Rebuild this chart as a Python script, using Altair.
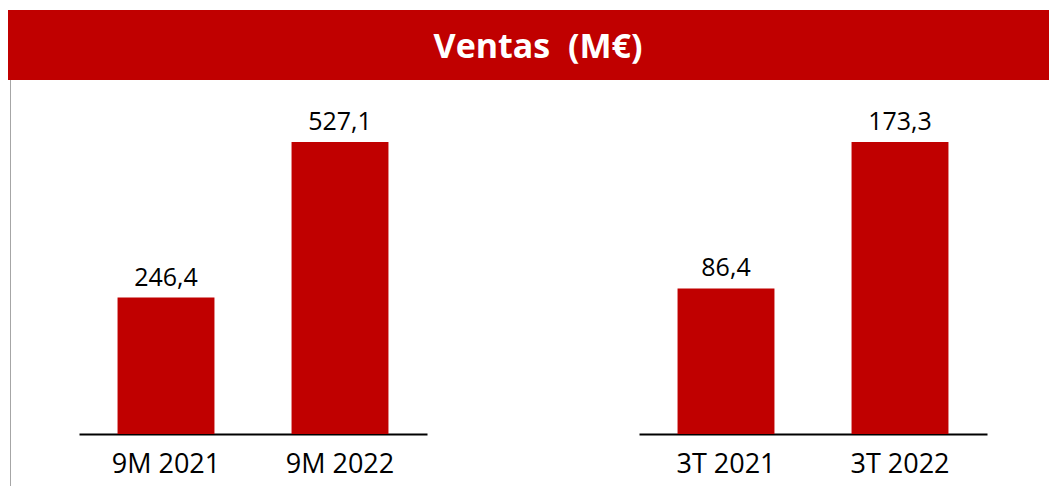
import altair as alt
import pandas as pd

# ---- data ----
title_text = "Ventas \u00a0(M€)"
cats_9m = ["9M 2021", "9M 2022"]
vals_9m = [246.4, 527.1]
cats_3t = ["3T 2021", "3T 2022"]
vals_3t = [86.4, 173.3]

RED = "#C00000"
FONT = "Open Sans"


def fmt(v):
    return f"{v:.1f}".replace(".", ",")


def panel(cats, vals, with_banner=False):
    df = pd.DataFrame({"cat": cats, "val": vals, "lab": [fmt(v) for v in vals]})
    base = alt.Chart(df).encode(
        x=alt.X(
            "cat:N",
            sort=None,
            title=None,
            scale=alt.Scale(paddingInner=0.443, paddingOuter=0.2215),
            axis=alt.Axis(
                orient="bottom",
                ticks=False,
                tickSize=0,
                grid=False,
                domain=True,
                domainColor="#000000",
                domainWidth=2,
                labelFont=FONT,
                labelFontSize=27,
                labelColor="#000000",
                labelAngle=0,
                labelBaseline="alphabetic",
                labelPadding=38,
            ),
        ),
        y=alt.Y("val:Q", axis=None, scale=alt.Scale(zero=True, nice=False)),
    )
    bars = base.mark_bar(color=RED)
    labels = base.mark_text(
        baseline="alphabetic", dy=-12, font=FONT, fontSize=25, color="#000000"
    ).encode(text="lab:N")
    layers = []
    if with_banner:
        tdf = pd.DataFrame({"t": [title_text]})
        tb = alt.Chart(tdf)
        banner = tb.mark_rect(color=RED).encode(
            x=alt.value(-71), x2=alt.value(970), y=alt.value(-132), y2=alt.value(-62)
        )
        ttl = tb.mark_text(
            font=FONT, fontSize=34, fontWeight="bold", color="#FFFFFF",
            align="center", baseline="alphabetic",
        ).encode(x=alt.value(459), y=alt.value(-84), text="t:N")
        gline = tb.mark_rule(color="#A6A6A6", strokeWidth=1).encode(
            x=alt.value(-68.5), y=alt.value(-62), y2=alt.value(344)
        )
        layers = [banner, ttl, gline]
    return alt.layer(*layers, bars, labels).properties(
        width=348, height=292,
        view=alt.ViewBackground(stroke="transparent", strokeWidth=0),
    )


left = panel(cats_9m, vals_9m, with_banner=True)
right = panel(cats_3t, vals_3t)

chart = (
    alt.hconcat(left, right, spacing=212, bounds="flush")
    .resolve_scale(y="independent", x="independent")
    .properties(padding={"left": 0, "top": 2, "right": 0, "bottom": 0})
    .configure_view(stroke="transparent", strokeWidth=0)
    .configure(background="#FFFFFF")
)

chart.save("out.html", embed_options={"renderer": "svg", "actions": False})
